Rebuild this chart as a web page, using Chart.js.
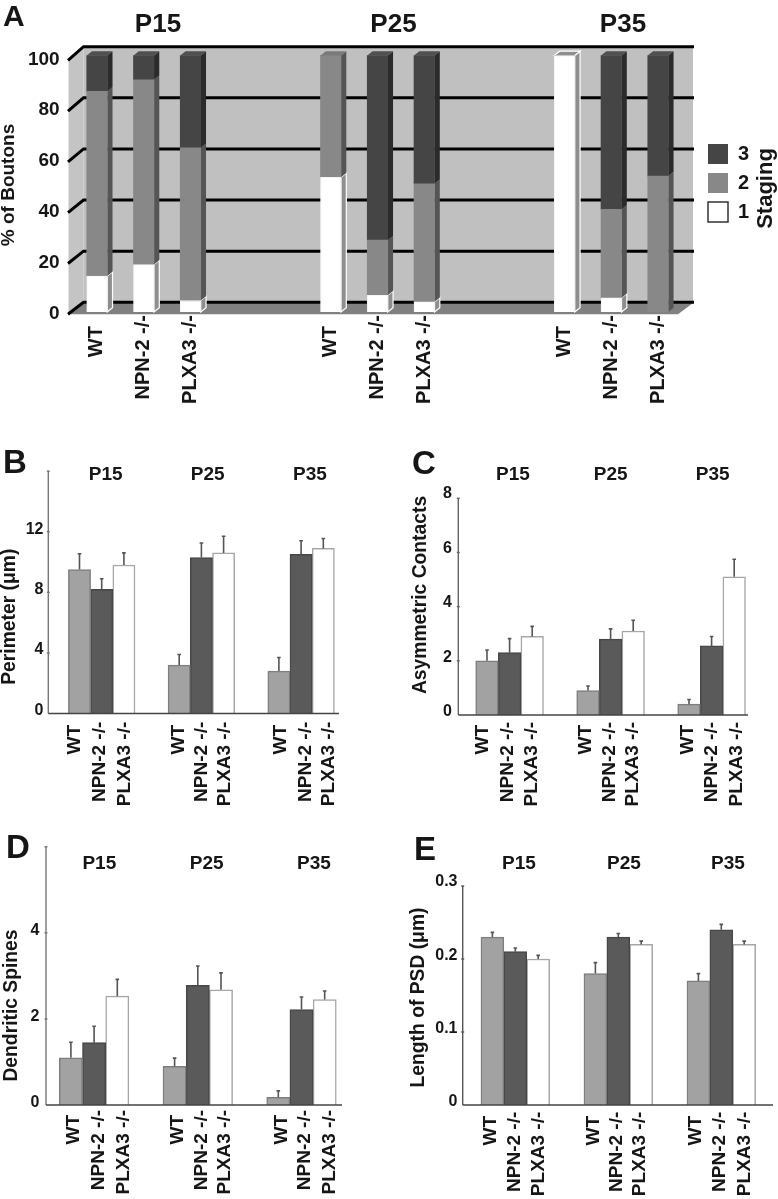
<!DOCTYPE html>
<html><head><meta charset="utf-8">
<script src="https://cdn.jsdelivr.net/npm/chart.js@4"></script>
<style>html,body{margin:0;padding:0;background:#fff}canvas{position:absolute;display:block}</style>
</head><body>
<canvas id="a"></canvas><canvas id="b"></canvas><canvas id="c"></canvas><canvas id="d"></canvas><canvas id="e"></canvas>
<script>
// ---------- data ----------
const groups = ['P15', 'P25', 'P35'];
const genotypes = ['WT', 'NPN-2 -/-', 'PLXA3 -/-'];

const stagingCategories = ['WT','NPN-2 -/-','PLXA3 -/-','','','WT','NPN-2 -/-','PLXA3 -/-','','','WT','NPN-2 -/-','PLXA3 -/-'];
const stage1 = [14, 18.5, 4.5, null, null, 52.5, 6.5, 4, null, null, 100, 5.5, 0];
const stage2 = [72, 72, 59.5, null, null, 47.5, 21.5, 46, null, null, 0, 34.5, 53];
const stage3 = [14, 9.5, 36, null, null, 0, 72, 50, null, null, 0, 60, 47];
const stagingTicks = [0, 20, 40, 60, 80, 100];

const perimeterWT = [9.5, 3.2, 2.8],  perimeterNPN = [8.2, 10.3, 10.5], perimeterPLX = [9.8, 10.6, 10.9];
const perimeterErrWT = [1.05, 0.7, 0.9], perimeterErrNPN = [0.7, 0.95, 0.9], perimeterErrPLX = [0.8, 1.1, 0.65];
const perimeterTicks = [0, 4, 8, 12, 16], perimeterTickLabels = ['0', '4', '8', '12', ''];

const contactsWT = [2.0, 0.9, 0.4], contactsNPN = [2.3, 2.8, 2.55], contactsPLX = [2.9, 3.1, 5.1];
const contactsErrWT = [0.4, 0.17, 0.17], contactsErrNPN = [0.52, 0.38, 0.35], contactsErrPLX = [0.37, 0.4, 0.65];
const contactsTicks = [0, 2, 4, 6, 8], contactsTickLabels = ['0', '2', '4', '6', '8'];

const spinesWT = [1.1, 0.9, 0.18], spinesNPN = [1.45, 2.78, 2.22], spinesPLX = [2.53, 2.68, 2.45];
const spinesErrWT = [0.36, 0.19, 0.15], spinesErrNPN = [0.38, 0.45, 0.29], spinesErrPLX = [0.39, 0.39, 0.2];
const spinesTicks = [0, 2, 4, 6], spinesTickLabels = ['0', '2', '4', ''];

const psdWT = [0.23, 0.18, 0.17], psdNPN = [0.21, 0.23, 0.24], psdPLX = [0.2, 0.22, 0.22];
const psdErrWT = [0.0065, 0.015, 0.01], psdErrNPN = [0.005, 0.005, 0.0075], psdErrPLX = [0.005, 0.0045, 0.0045];
const psdTicks = [0, 0.1, 0.2, 0.3], psdTickLabels = ['0', '0.1', '0.2', '0.3'];

// ---------- helpers ----------
const FAM = '"Liberation Sans", Arial, sans-serif';
const INK = '#161616';
Chart.defaults.font.family = FAM;
Chart.defaults.font.weight = 'bold';
Chart.defaults.color = INK;

function yRange(zeroPx, refPx, refVal, top, bottom) {
  const ppv = (zeroPx - refPx) / refVal;
  return { min: (zeroPx - bottom) / ppv, max: (zeroPx - top) / ppv };
}
function text(ctx, s, x, y, size, rot, align, base) {
  ctx.save();
  ctx.translate(x, y);
  if (rot) ctx.rotate(rot);
  ctx.font = 'bold ' + size + 'px ' + FAM;
  ctx.fillStyle = INK;
  ctx.textAlign = align || 'center';
  ctx.textBaseline = base || 'middle';
  ctx.fillText(s, 0, 0);
  ctx.restore();
}
function poly(ctx, pts, fill, stroke, lw) {
  ctx.beginPath();
  pts.forEach((p, i) => i ? ctx.lineTo(p[0], p[1]) : ctx.moveTo(p[0], p[1]));
  ctx.closePath();
  if (fill) { ctx.fillStyle = fill; ctx.fill(); }
  if (stroke) { ctx.strokeStyle = stroke; ctx.lineWidth = lw; ctx.stroke(); }
}
function place(canvas, r) {
  canvas.width = r.w; canvas.height = r.h;
  canvas.style.left = r.x + 'px'; canvas.style.top = r.y + 'px';
  canvas.style.width = r.w + 'px'; canvas.style.height = r.h + 'px';
}

// ---------- panel A ----------
(function () {
  const R = { x: 0, y: 0, w: 778, h: 415 };
  place(document.getElementById('a'), R);
  const top = 50, bottom = 315, left = 73.6, right = 681.4;
  const DX = 5.3, DY = -4.3;
  const faces = [
    { front: '#ffffff', side: '#8e8e8e', edge: '#ffffff', lid: '#8e8e8e' },
    { front: '#888888', side: '#555555', edge: null, lid: '#7a7a7a' },
    { front: '#454545', side: '#2b2b2b', edge: null, lid: '#505050' }
  ];
  const solid = {
    id: 'solid',
    beforeDatasetsDraw(chart) {
      const c = chart.ctx, yb = chart.scales.yBack, yl = chart.scales.yLab;
      const y100 = yb.getPixelForValue(100), y0 = yb.getPixelForValue(0);
      const f100 = yl.getPixelForValue(100), f0 = yl.getPixelForValue(0);
      poly(c, [[83.5, y100], [693, y100], [693, y0], [83.5, y0]], '#c0c0c0');
      poly(c, [[68.5, f100], [83.5, y100], [83.5, y0], [68.5, f0]], '#c4c4c4');
      poly(c, [[68.5, f0 + 1], [83.5, y0], [694, y0], [678, f0 + 1]], '#808080');
      c.strokeStyle = '#000'; c.lineWidth = 3;
      stagingTicks.forEach(v => {
        const yy = yb.getPixelForValue(v), yf = yl.getPixelForValue(v);
        c.beginPath(); c.moveTo(68, yf + 1); c.lineTo(83.5, yy); c.lineTo(694, yy); c.stroke();
      });
      const n = stagingCategories.length;
      for (let j = 0; j < n; j++) {
        let topMost = -1;
        chart.data.datasets.forEach((d, i) => { if (d.data[j]) topMost = i; });
        chart.data.datasets.forEach((d, i) => {
          if (!d.data[j]) return;
          const el = chart.getDatasetMeta(i).data[j], f = faces[i];
          const r = el.x + el.width / 2, l = el.x - el.width / 2;
          poly(c, [[r, el.y], [r + DX, el.y + DY], [r + DX, el.base + DY], [r, el.base]], f.side, f.edge, 1.2);
          if (i === topMost) {
            poly(c, [[l, el.y], [l + DX, el.y + DY], [r + DX, el.y + DY], [r, el.y]], f.lid, f.edge, 1.2);
          }
        });
      }
    },
    afterLayout(chart) {
      const lg = chart.legend;
      lg.left = 699; lg.right = 778; lg.top = 135; lg.bottom = 300;
    },
    afterDraw(chart) {
      const c = chart.ctx;
      text(c, 'A', 3, 26, 30, 0, 'left', 'alphabetic');
      text(c, 'P15', 158, 25, 26);
      text(c, 'P25', 393.5, 25, 26);
      text(c, 'P35', 623, 25, 26);
      text(c, '% of Boutons', 9, 185, 19, -Math.PI / 2);
      text(c, 'Staging', 766, 188.5, 22, -Math.PI / 2);
    }
  };
  new Chart(document.getElementById('a'), {
    type: 'bar',
    data: {
      labels: stagingCategories,
      datasets: [
        { label: '1', data: stage1, backgroundColor: faces[0].front, borderColor: '#f4f4f4', borderWidth: 1 },
        { label: '2', data: stage2, backgroundColor: faces[1].front, borderWidth: 0 },
        { label: '3', data: stage3, backgroundColor: faces[2].front, borderWidth: 0 }
      ]
    },
    options: {
      responsive: false, animation: false, devicePixelRatio: 1,
      barThickness: 20.5,
      layout: { padding: { left: 0, top: top, right: R.w - right, bottom: 0 } },
      plugins: {
        tooltip: { enabled: false },
        legend: {
          position: 'chartArea', reverse: true, align: 'start',
          labels: {
            boxWidth: 20, boxHeight: 20, padding: 9, color: INK,
            font: { size: 20, weight: 'bold' },
            generateLabels: ch => Chart.defaults.plugins.legend.labels.generateLabels(ch).map(l =>
              Object.assign(l, { strokeStyle: l.text === '1' ? '#333' : l.fillStyle, lineWidth: l.text === '1' ? 1.5 : 0 }))
          }
        }
      },
      scales: {
        x: {
          stacked: true, offset: true,
          grid: { display: false, drawTicks: false }, border: { display: false },
          afterFit(ax) { ax.height = R.h - bottom; },
          ticks: {
            autoSkip: false, minRotation: 90, maxRotation: 90, padding: 0,
            font: { size: 20, weight: 'bold' },
            callback(v) { const s = this.getLabelForValue(v); return s === 'WT' ? s + '  ' : s; }
          }
        },
        y: Object.assign({ stacked: true, display: false }, yRange(312, 55.5, 100, top, bottom)),
        yBack: Object.assign({ display: false }, yRange(302.3, 46.7, 100, top, bottom)),
        yLab: Object.assign({
          position: 'left',
          grid: { display: false, drawTicks: false }, border: { display: false },
          afterFit(ax) { ax.width = left; },
          afterBuildTicks(ax) { ax.ticks = stagingTicks.map(v => ({ value: v })); },
          ticks: { padding: 14, autoSkip: false, font: { size: 19, weight: 'bold' } }
        }, yRange(313.3, 59.3, 100, top, bottom))
      }
    },
    plugins: [solid]
  });
})();

// ---------- panels B-E ----------
function groupedPanel(id, p) {
  const R = p.rect, ox = R.x, oy = R.y;
  place(document.getElementById(id), R);
  const left = p.center1 - p.step / 2 - ox, right = left + 3 * p.step;
  const top = p.top - oy, bottom = p.bottom - oy;
  const deco = {
    id: 'deco',
    afterDatasetsDraw(chart) {
      const c = chart.ctx, y = chart.scales.y;
      chart.data.datasets.forEach((d, i) => {
        chart.getDatasetMeta(i).data.forEach((el, j) => {
          const yt = y.getPixelForValue(d.data[j] + p.errors[i][j]);
          c.strokeStyle = '#555'; c.lineWidth = 1.6;
          c.beginPath(); c.moveTo(el.x, el.y); c.lineTo(el.x, yt);
          c.moveTo(el.x - 1.8, yt); c.lineTo(el.x + 1.8, yt); c.stroke();
        });
      });
      const ax = p.axisX - ox, y0 = y.getPixelForValue(0);
      c.strokeStyle = p.axisColor; c.lineWidth = 1.4;
      c.beginPath(); c.moveTo(ax, y.getPixelForValue(p.ticks[p.ticks.length - 1])); c.lineTo(ax, y0); c.stroke();
      p.ticks.forEach(v => {
        if (!v) return;
        const yy = y.getPixelForValue(v);
        c.beginPath(); c.moveTo(ax - 1.5, yy); c.lineTo(ax + 1.5, yy); c.stroke();
      });
      c.strokeStyle = '#444'; c.lineWidth = 1.5;
      c.beginPath(); c.moveTo(ax, y0); c.lineTo(p.axisEnd - ox, y0); c.stroke();
    },
    afterDraw(chart) {
      const c = chart.ctx;
      text(c, p.letter, p.letterX - ox, p.letterY - oy, 33, 0, 'left', 'alphabetic');
      groups.forEach((g, i) => text(c, g, p.titleX[i] - ox, p.titleY - oy, 19));
      text(c, p.yTitle, p.yTitleX - ox, p.yTitleY - oy, 19.3, -Math.PI / 2);
      p.labelX.forEach((x, k) => {
        const name = genotypes[k % 3];
        const ty = (name === 'WT' ? p.labelTopWT : p.labelTop) - oy;
        text(c, name, x - ox, ty, 19, -Math.PI / 2, 'right');
      });
    }
  };
  const yLabRange = yRange(p.labelZero - oy, p.labelRefPx - oy, p.labelRefVal, top, bottom);
  new Chart(document.getElementById(id), {
    type: 'bar',
    data: {
      labels: groups,
      datasets: genotypes.map((g, i) => ({
        label: g, data: p.values[i],
        backgroundColor: ['#a2a2a2', '#5a5a5a', '#ffffff'][i],
        borderColor: ['#7e7e7e', '#474747', '#a6a6a6'][i],
        borderWidth: 1.5
      }))
    },
    options: {
      responsive: false, animation: false, devicePixelRatio: 1,
      barThickness: p.barWidth,
      layout: { padding: { left: 0, top: top, right: R.w - right, bottom: R.h - bottom } },
      plugins: { legend: { display: false }, tooltip: { enabled: false } },
      scales: {
        x: { display: false, offset: true, grid: { display: false } },
        y: Object.assign({ display: false }, yRange(p.zeroPx - oy, p.refPx - oy, p.refVal, top, bottom)),
        yLab: Object.assign({
          position: 'left',
          grid: { display: false, drawTicks: false }, border: { display: false },
          afterFit(ax) { ax.width = left; },
          afterBuildTicks(ax) { ax.ticks = p.ticks.map(v => ({ value: v })); },
          ticks: {
            padding: left - (p.labelRight - ox), autoSkip: false,
            font: { size: 16, weight: 'bold' },
            callback(v, i) { return p.tickLabels[i]; }
          }
        }, yLabRange)
      }
    },
    plugins: [deco]
  });
}

groupedPanel('b', {
  rect: { x: 0, y: 445, w: 395, h: 375 }, letter: 'B', letterX: 3, letterY: 473,
  values: [perimeterWT, perimeterNPN, perimeterPLX], errors: [perimeterErrWT, perimeterErrNPN, perimeterErrPLX],
  ticks: perimeterTicks, tickLabels: perimeterTickLabels,
  center1: 101.7, step: 99.7, barWidth: 22.2, top: 452, bottom: 719,
  zeroPx: 713.3, refPx: 523.7, refVal: 12,
  labelZero: 710, labelRefPx: 521, labelRefVal: 12, labelRight: 43.5,
  axisX: 48.3, axisEnd: 339, axisColor: '#777',
  titleX: [105.7, 207.7, 310], titleY: 475,
  yTitle: 'Perimeter (μm)', yTitleX: 9.5, yTitleY: 616.7,
  labelX: [75, 99.7, 124.5, 179, 201.7, 225, 281, 305.6, 328.7], labelTop: 721.7, labelTopWT: 725
});
groupedPanel('c', {
  rect: { x: 395, y: 445, w: 383, h: 375 }, letter: 'C', letterX: 412, letterY: 474,
  values: [contactsWT, contactsNPN, contactsPLX], errors: [contactsErrWT, contactsErrNPN, contactsErrPLX],
  ticks: contactsTicks, tickLabels: contactsTickLabels,
  center1: 509.6, step: 101, barWidth: 22.6, top: 488, bottom: 721,
  zeroPx: 715, refPx: 498.3, refVal: 8,
  labelZero: 712, labelRefPx: 493.5, labelRefVal: 8, labelRight: 452,
  axisX: 458.3, axisEnd: 748, axisColor: '#666',
  titleX: [513, 610.7, 712.7], titleY: 475,
  yTitle: 'Asymmetric Contacts', yTitleX: 420.5, yTitleY: 595,
  labelX: [483, 508, 532, 586, 610, 633, 687.7, 712, 736.7], labelTop: 722, labelTopWT: 725
});
groupedPanel('d', {
  rect: { x: 0, y: 830, w: 395, h: 369 }, letter: 'D', letterX: 6, letterY: 858,
  values: [spinesWT, spinesNPN, spinesPLX], errors: [spinesErrWT, spinesErrNPN, spinesErrPLX],
  ticks: spinesTicks, tickLabels: spinesTickLabels,
  center1: 94.1, step: 103.7, barWidth: 23.2, top: 838, bottom: 1111,
  zeroPx: 1105, refPx: 930, refVal: 4,
  labelZero: 1102, labelRefPx: 928, labelRefVal: 4, labelRight: 39.5,
  axisX: 46, axisEnd: 342, axisColor: '#777',
  titleX: [99.3, 206.7, 314], titleY: 864,
  yTitle: 'Dendritic Spines', yTitleX: 11.5, yTitleY: 1005.5,
  labelX: [74, 98.3, 123.3, 178, 201.7, 225, 281.7, 305, 330], labelTop: 1110, labelTopWT: 1115
});
groupedPanel('e', {
  rect: { x: 395, y: 830, w: 383, h: 369 }, letter: 'E', letterX: 414, letterY: 860,
  values: [psdWT, psdNPN, psdPLX], errors: [psdErrWT, psdErrNPN, psdErrPLX],
  ticks: psdTicks, tickLabels: psdTickLabels,
  center1: 515.3, step: 103, barWidth: 22.9, top: 876, bottom: 1111,
  zeroPx: 1105, refPx: 886, refVal: 0.3,
  labelZero: 1102, labelRefPx: 881.7, labelRefVal: 0.3, labelRight: 457.5,
  axisX: 462.7, axisEnd: 773, axisColor: '#555',
  titleX: [519, 624, 728], titleY: 864,
  yTitle: 'Length of PSD (μm)', yTitleX: 418.5, yTitleY: 997.5,
  labelX: [490.7, 515, 538.3, 593.3, 616.7, 640, 696, 720, 745], labelTop: 1111.7, labelTopWT: 1116
});
</script>
</body></html>
